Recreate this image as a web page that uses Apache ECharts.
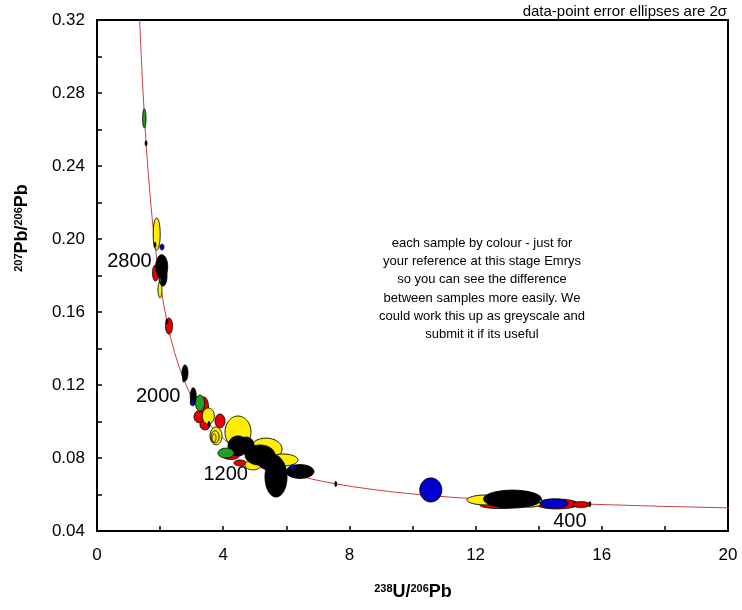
<!DOCTYPE html>
<html><head><meta charset="utf-8">
<script src="https://cdn.jsdelivr.net/npm/echarts@6/dist/echarts.min.js"></script>
<style>html,body{margin:0;padding:0;background:#fff}#c{width:742px;height:610px}</style>
</head><body><div id="c"></div>
<script>
// Concordia curve (238U/206Pb, 207Pb/206Pb)
const concordiaX = [1.352, 1.387, 1.440, 1.496, 1.556, 1.619, 1.688, 1.760, 1.838, 1.922, 2.013, 2.111, 2.217, 2.332, 2.459, 2.597, 2.749, 2.917, 3.104, 3.314, 3.550, 3.817, 4.123, 4.476, 4.888, 5.375, 5.959, 6.298, 6.674, 7.095, 7.568, 8.105, 8.718, 9.426, 10.252, 11.228, 12.399, 13.831, 15.621, 17.924, 20.99];
const concordiaY = [0.3200, 0.3058, 0.2867, 0.2690, 0.2524, 0.2370, 0.2227, 0.2093, 0.1968, 0.1852, 0.1744, 0.1643, 0.1548, 0.1460, 0.1378, 0.1302, 0.1230, 0.1163, 0.1100, 0.1042, 0.0987, 0.0936, 0.0888, 0.0843, 0.0801, 0.0762, 0.0725, 0.0707, 0.0690, 0.0674, 0.0658, 0.0643, 0.0628, 0.0613, 0.0599, 0.0585, 0.0572, 0.0559, 0.0547, 0.0535, 0.0523];
// Concordia age markers (Ma)
const markerAges = [400, 800, 1200, 1600, 2000, 2400, 2800, 3200];
const markerX = [15.621, 7.568, 4.888, 3.550, 2.749, 2.217, 1.838, 1.556];
const markerY = [0.0547, 0.0658, 0.0801, 0.0987, 0.1230, 0.1548, 0.1968, 0.2524];
const markerErrX = 0.03, markerErrY = 0.0014;
// Labelled ages
const ageLabels = ['2800', '2000', '1200', '400'];
const ageLabelX = [1.838, 2.749, 4.888, 15.621];
const ageLabelY = [0.1968, 0.1230, 0.0801, 0.0547];
// Axis ticks
const xTickValues = [0, 4, 8, 12, 16, 20];
const yTickValues = [0.04, 0.08, 0.12, 0.16, 0.20, 0.24, 0.28, 0.32];
// Error ellipses: [238U/206Pb, 207Pb/206Pb, 2s x, 2s y]
const redEllipses = [
  [1.854, 0.1814, 0.095, 0.0044],
  [2.282, 0.1523, 0.111, 0.0044],
  [3.391, 0.1079, 0.143, 0.0055],
  [3.233, 0.1026, 0.158, 0.0033],
  [3.423, 0.0981, 0.158, 0.0027],
  [3.899, 0.1003, 0.158, 0.0038],
  [4.247, 0.0811, 0.254, 0.0019],
  [4.532, 0.0773, 0.190, 0.0016],
  [12.77, 0.0542, 0.634, 0.0019],
  [14.58, 0.0548, 0.666, 0.0027],
  [15.34, 0.0545, 0.285, 0.0016]
];
const yellowEllipses = [
  [1.892, 0.2027, 0.111, 0.0088],
  [1.997, 0.1721, 0.063, 0.0044],
  [3.528, 0.1030, 0.190, 0.0044],
  [3.772, 0.0921, 0.190, 0.0049],
  [3.740, 0.0916, 0.127, 0.0033],
  [3.710, 0.0910, 0.063, 0.0022],
  [4.469, 0.0942, 0.412, 0.0088],
  [5.357, 0.0849, 0.507, 0.0060],
  [5.895, 0.0789, 0.475, 0.0033],
  [4.944, 0.0762, 0.254, 0.0027],
  [12.30, 0.0570, 0.571, 0.0027],
  [13.72, 0.0553, 0.380, 0.0022]
];
const blackEllipses = [
  [2.051, 0.1848, 0.190, 0.0066],
  [2.092, 0.1797, 0.127, 0.0055],
  [2.789, 0.1266, 0.095, 0.0044],
  [3.052, 0.1136, 0.095, 0.0049],
  [4.469, 0.0866, 0.317, 0.0055],
  [4.723, 0.0871, 0.254, 0.0044],
  [5.166, 0.0816, 0.475, 0.0055],
  [5.483, 0.0778, 0.380, 0.0044],
  [5.674, 0.0696, 0.349, 0.0110],
  [6.434, 0.0726, 0.444, 0.0038],
  [13.17, 0.0575, 0.919, 0.0049]
];
const greenEllipses = [
  [1.499, 0.2661, 0.054, 0.0052],
  [3.265, 0.1101, 0.143, 0.0044],
  [4.089, 0.0827, 0.254, 0.0027],
  [14.07, 0.0561, 0.063, 0.0011],
  [2.000, 0.1775, 0.030, 0.0016]
];
const blueEllipses = [
  [10.58, 0.0625, 0.349, 0.0066],
  [14.49, 0.0551, 0.444, 0.0025],
  [3.020, 0.1103, 0.063, 0.0016],
  [6.210, 0.0751, 0.095, 0.0011],
  [2.060, 0.1956, 0.063, 0.0016]
];
const noteLines = ['each sample by colour - just for', 'your reference at this stage Emrys', 'so you can see the difference', 'between samples more easily. We', 'could work this up as greyscale and', 'submit it if its useful'];
const cornerNote = 'data-point error ellipses are 2\u03c3';

const FONT = '"Liberation Sans", Arial, Helvetica, sans-serif';
function ellipseSeries(name, data, color, z) {
  return {
    type: 'custom', name: name, data: data, z: z,
    coordinateSystem: 'cartesian2d', silent: true, clip: true,
    encode: { x: 0, y: 1 },
    renderItem: function (params, api) {
      const x = api.value(0), y = api.value(1), ex = api.value(2), ey = api.value(3);
      const pts = [];
      const n = 72;
      for (let i = 0; i < n; i++) {
        const a = i / n * Math.PI * 2;
        pts.push(api.coord([x + ex * Math.cos(a), y + ey * Math.sin(a)]));
      }
      return { type: 'polygon', shape: { points: pts }, style: { fill: color, stroke: '#000', lineWidth: 0.9 } };
    }
  };
}
const chart = echarts.init(document.getElementById('c'), null, { renderer: 'canvas' });
const richTitle = {
  sup: { fontFamily: FONT, fontSize: 11, fontWeight: 'bold', color: '#000', verticalAlign: 'top' },
  b: { fontFamily: FONT, fontSize: 18, fontWeight: 'bold', color: '#000' }
};
chart.setOption({
  animation: false,
  backgroundColor: '#fff',
  grid: { left: 97, right: 14, top: 20, bottom: 79, show: true, borderColor: '#000', borderWidth: 2, containLabel: false },
  xAxis: {
    type: 'value', min: xTickValues[0], max: xTickValues[xTickValues.length - 1], interval: xTickValues[1] - xTickValues[0],
    axisLine: { show: true, onZero: false, lineStyle: { color: '#000', width: 2 } },
    axisTick: { show: true, inside: true, length: 5, lineStyle: { color: '#000', width: 1.5 } },
    minorTick: { show: true, splitNumber: 2, length: 5, lineStyle: { color: '#000', width: 1.5 } },
    splitLine: { show: false },
    axisLabel: { fontFamily: FONT, fontSize: 17, color: '#000', margin: 16 }
  },
  yAxis: {
    type: 'value', min: yTickValues[0], max: yTickValues[yTickValues.length - 1], interval: 0.04,
    axisLine: { show: true, onZero: false, lineStyle: { color: '#000', width: 2 } },
    axisTick: { show: true, inside: true, length: 5, lineStyle: { color: '#000', width: 1.5 } },
    minorTick: { show: true, splitNumber: 2, length: 5, lineStyle: { color: '#000', width: 1.5 } },
    splitLine: { show: false },
    axisLabel: { fontFamily: FONT, fontSize: 17, color: '#000', margin: 12, formatter: v => v.toFixed(2) }
  },
  graphic: [
    { type: 'text', x: 413, y: 592, style: { text: '{sup|238}{b|U/}{sup|206}{b|Pb}', rich: richTitle, align: 'center', verticalAlign: 'middle' } },
    { type: 'text', x: 22, y: 228, rotation: Math.PI / 2, style: { text: '{sup|207}{b|Pb/}{sup|206}{b|Pb}', rich: richTitle, align: 'center', verticalAlign: 'middle' } },
    { type: 'text', x: 482, y: 234, style: { text: noteLines.join('\n'), fontFamily: FONT, fontSize: 13, lineHeight: 18.3, fill: '#000', align: 'center', verticalAlign: 'top' } },
    { type: 'text', x: 727, y: 12, style: { text: cornerNote, fontFamily: FONT, fontSize: 15, fill: '#000', align: 'right', verticalAlign: 'middle' } }
  ],
  series: [
    {
      type: 'line', z: 1, silent: true, symbol: 'none', smooth: false, clip: true,
      lineStyle: { color: '#c84040', width: 1 },
      data: concordiaX.map((x, i) => [x, concordiaY[i]])
    },
    ellipseSeries('red', redEllipses, '#e80000', 2),
    ellipseSeries('yellow', yellowEllipses, '#ffee00', 3),
    ellipseSeries('black', blackEllipses, '#000000', 4),
    ellipseSeries('green', greenEllipses, '#22a022', 5),
    ellipseSeries('blue', blueEllipses, '#0000cc', 6),
    ellipseSeries('markers', markerX.map((x, i) => [x, markerY[i], markerErrX, markerErrY, markerAges[i]]), '#000000', 7),
    {
      type: 'scatter', z: 8, silent: true, symbol: 'circle', symbolSize: 0.5, itemStyle: { color: '#000', opacity: 1 },
      data: ageLabelX.map((x, i) => [x, ageLabelY[i], ageLabels[i]]),
      label: { show: true, position: 'left', distance: 3, offset: [0, 17], opacity: 1,
        formatter: p => p.value[2], fontFamily: FONT, fontSize: 20, color: '#000', textBorderWidth: 0 }
    }
  ]
});
</script></body></html>
